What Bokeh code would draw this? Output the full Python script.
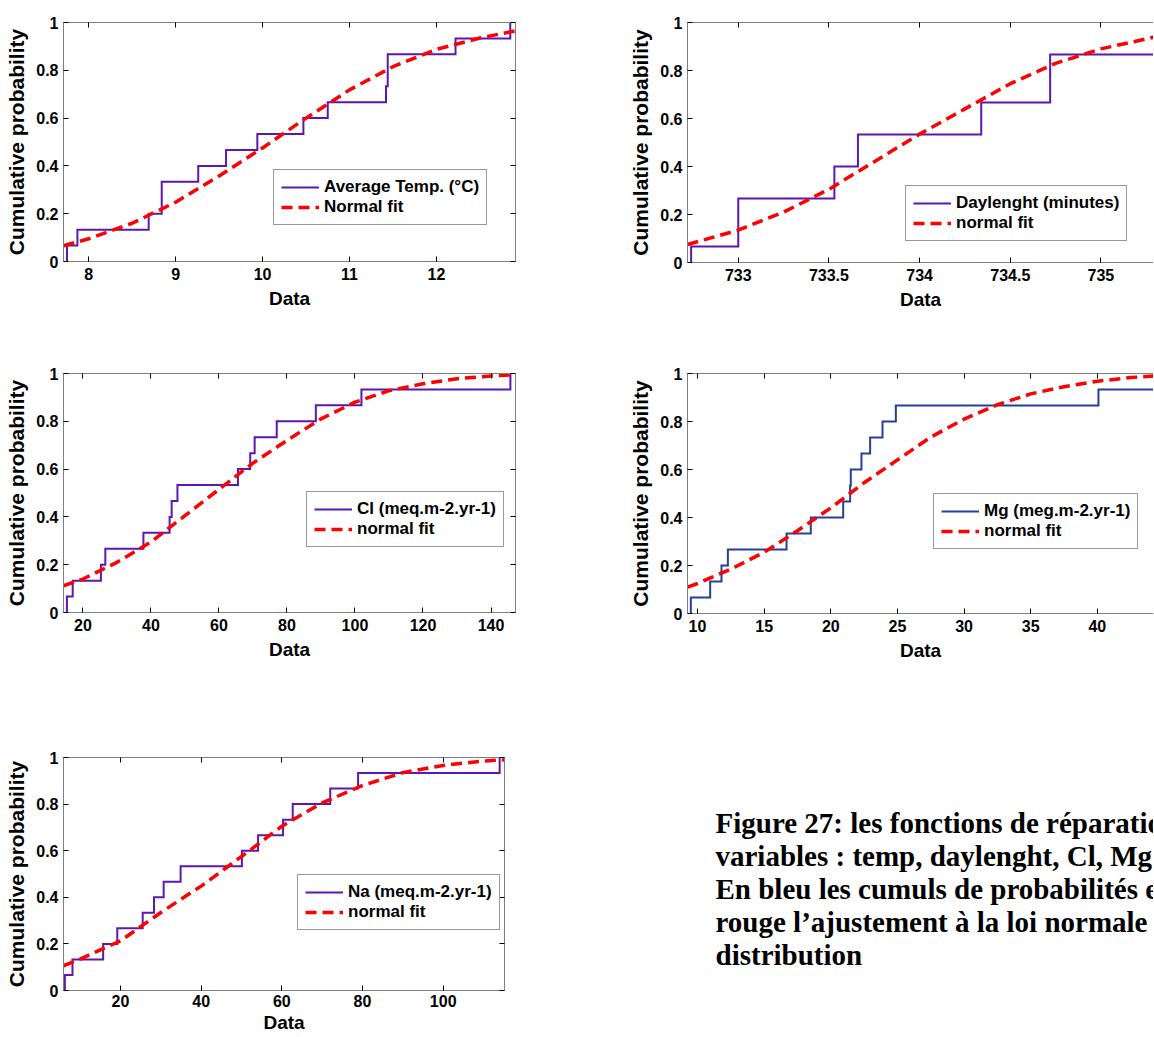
import numpy as np
from bokeh.plotting import figure
from bokeh.layouts import row, column
from bokeh.models import (FixedTicker, LinearAxis, Range1d, Legend, LegendItem,
                          Label, PrintfTickFormatter, CustomJSTickFormatter, Spacer)
from bokeh.embed import file_html
from bokeh.resources import INLINE

# ---------------- data ----------------
temp_values = [7.75, 7.87, 8.69, 8.84, 8.84, 9.26, 9.58, 9.94, 10.47, 10.75,
               11.42, 11.44, 11.44, 12.22, 12.85]
temp_fit_x = [7.71, 8.0, 8.5, 9.0, 9.5, 10.0, 10.5, 11.0, 11.5, 12.0, 12.5, 12.91]
temp_fit_y = [0.066, 0.095, 0.16, 0.248, 0.358, 0.475, 0.60, 0.718, 0.815, 0.888, 0.935, 0.965]
temp_ticks = [8, 9, 10, 11, 12]

day_values = [732.74, 733.0, 733.0, 733.0, 733.53, 733.53, 733.66, 733.66,
              734.34, 734.34, 734.72, 734.72, 734.72, 735.6, 735.8]
day_fit_x = [732.72, 733.0, 733.25, 733.5, 733.75, 734.0, 734.25, 734.5, 734.75, 735.0, 735.3]
day_fit_y = [0.075, 0.135, 0.21, 0.305, 0.42, 0.535, 0.64, 0.745, 0.83, 0.89, 0.94]
day_ticks = [733, 733.5, 734, 734.5, 735]

cl_values = [15.3, 17.0, 25.3, 26.6, 37.8, 45.5, 46.1, 47.8, 65.6, 69.2,
             70.5, 77.0, 88.5, 101.9, 145.7]
cl_fit_x = [14.3, 20, 30, 40, 50, 60, 70, 80, 90, 100, 110, 120, 130, 140, 147.2]
cl_fit_y = [0.112, 0.14, 0.21, 0.295, 0.405, 0.515, 0.625, 0.72, 0.81, 0.88,
            0.928, 0.957, 0.978, 0.99, 0.995]
cl_ticks = [20, 40, 60, 80, 100, 120, 140]

mg_values = [9.5, 10.95, 11.8, 12.28, 16.68, 18.5, 20.93, 21.45, 21.5, 22.3,
             22.95, 23.88, 24.88, 40.08, 45.0]
mg_fit_x = [9.25, 10, 12.5, 15, 17.5, 20, 22.5, 25, 27.5, 30, 32.5, 35, 37.5, 40, 42.5, 44.3]
mg_fit_y = [0.11, 0.125, 0.185, 0.255, 0.345, 0.44, 0.545, 0.64, 0.735, 0.81,
            0.87, 0.915, 0.945, 0.968, 0.983, 0.99]
mg_ticks = [10, 15, 20, 25, 30, 35, 40]

na_values = [6.2, 8.1, 15.7, 19.2, 25.5, 28.3, 30.7, 34.9, 50.1, 54.1,
             60.3, 62.7, 72.0, 78.9, 114.0]
na_fit_x = [5.87, 10, 20, 30, 40, 50, 60, 70, 80, 90, 100, 110, 115.2]
na_fit_y = [0.106, 0.135, 0.213, 0.335, 0.448, 0.575, 0.705, 0.805, 0.88, 0.935,
            0.966, 0.985, 0.99]
na_ticks = [20, 40, 60, 80, 100]

prob_ticks = [0, 0.2, 0.4, 0.6, 0.8, 1]

caption_lines = [
    "Figure 27: les fonctions de réparation",
    "variables : temp, daylenght, Cl, Mg",
    "En bleu les cumuls de probabilités et",
    "rouge l\u2019ajustement à la loi normale",
    "distribution",
]

# ---------------- styling ----------------
FONT = "Liberation Sans"
PURPLE = "#5b17b0"
BLUE = "#24409c"
RED = "#ff0000"
FRAME = "#7f7f7f"


def ecdf_xy(vals):
    v = np.sort(np.asarray(vals, dtype=float))
    n = len(v)
    xs = np.repeat(v, 2)
    ys = np.empty(2 * n)
    ys[0::2] = np.arange(n) / n
    ys[1::2] = np.arange(1, n + 1) / n
    return xs, ys


def style_axis(ax, ticks, labelled, label=None, label_size="19px",
               tick_standoff=6, label_standoff=5):
    ax.ticker = FixedTicker(ticks=ticks)
    ax.axis_line_color = FRAME
    ax.axis_line_width = 1
    ax.major_tick_line_color = "black"
    ax.major_tick_in = 5
    ax.major_tick_out = 0
    ax.minor_tick_line_color = None
    if labelled:
        ax.formatter = PrintfTickFormatter(format="%g")
        ax.major_label_text_font = FONT
        ax.major_label_text_font_style = "bold"
        ax.major_label_text_font_size = "16px"
        ax.major_label_text_color = "black"
        ax.major_label_standoff = tick_standoff
        ax.axis_label = label
        ax.axis_label_text_font = FONT
        ax.axis_label_text_font_style = "bold"
        ax.axis_label_text_font_size = label_size
        ax.axis_label_text_color = "black"
        ax.axis_label_standoff = label_standoff
    else:
        ax.formatter = CustomJSTickFormatter(code="return ''")
        ax.major_label_text_font_size = "1px"
        ax.major_label_standoff = 0


def make_panel(values, fit_x, fit_y, xr, xticks, labels, color, width, height,
               b_left, b_top, b_bottom, b_right, legend_loc, right_axis=True,
               tick_standoff=6, xlabel_standoff=5):
    p = figure(width=width, height=height, x_range=Range1d(*xr), y_range=Range1d(0, 1),
               output_backend="svg", toolbar_location=None,
               min_border_left=b_left, min_border_top=b_top,
               min_border_bottom=b_bottom, min_border_right=b_right)
    p.outline_line_color = None
    p.xgrid.visible = False
    p.ygrid.visible = False
    p.background_fill_color = "white"
    p.border_fill_color = "white"

    style_axis(p.xaxis[0], xticks, True, "Data", "19px",
               tick_standoff=tick_standoff, label_standoff=xlabel_standoff)
    style_axis(p.yaxis[0], prob_ticks, True, "Cumulative probability", "21px",
               tick_standoff=5, label_standoff=5)

    top = LinearAxis()
    style_axis(top, xticks, False)
    p.add_layout(top, "above")
    if right_axis:
        rax = LinearAxis()
        style_axis(rax, prob_ticks, False)
        p.add_layout(rax, "right")

    ex, ey = ecdf_xy(values)
    r1 = p.line(ex, ey, line_color=color, line_width=2, line_join="miter")
    r2 = p.line(fit_x, fit_y, line_color=RED, line_width=3.5, line_dash="11 6")

    leg = Legend(items=[LegendItem(label=labels[0], renderers=[r1]),
                        LegendItem(label=labels[1], renderers=[r2])],
                 location=legend_loc)
    leg.label_text_font = FONT
    leg.label_text_font_style = "bold"
    leg.label_text_font_size = "17px"
    leg.label_text_color = "black"
    leg.glyph_width = 38
    leg.glyph_height = 16
    leg.label_height = 16
    leg.label_standoff = 5
    leg.padding = 7
    leg.spacing = 0
    leg.margin = 0
    leg.border_line_color = "#333333"
    leg.border_line_width = 1
    leg.background_fill_color = "white"
    leg.background_fill_alpha = 1
    p.add_layout(leg)
    return p


# Row 1 (y 0..313)
p1 = make_panel(temp_values, temp_fit_x, temp_fit_y, (7.71, 12.91), temp_ticks,
                ("Average Temp. (°C)", "Normal fit"), PURPLE,
                width=525, height=312, b_left=63, b_top=22, b_bottom=51, b_right=10,
                legend_loc=(210, 36))
p2 = make_panel(day_values, day_fit_x, day_fit_y, (732.72, 735.29), day_ticks,
                ("Daylenght (minutes)", "normal fit"), PURPLE,
                width=528, height=313, b_left=62, b_top=22, b_bottom=51, b_right=0,
                legend_loc=(218, 21), right_axis=False)
# Row 2 (y 313..664)
p3 = make_panel(cl_values, cl_fit_x, cl_fit_y, (14.3, 147.2), cl_ticks,
                ("Cl (meq.m-2.yr-1)", "normal fit"), PURPLE,
                width=525, height=350, b_left=63, b_top=60, b_bottom=51, b_right=10,
                legend_loc=(243, 65))
p4 = make_panel(mg_values, mg_fit_x, mg_fit_y, (9.25, 44.21), mg_ticks,
                ("Mg (meg.m-2.yr-1)", "normal fit"), BLUE,
                width=528, height=351, b_left=62, b_top=60, b_bottom=51, b_right=0,
                legend_loc=(246, 64), right_axis=False)
# Row 3 (y 664..1036)
ROW3_H = 372
p5 = make_panel(na_values, na_fit_x, na_fit_y, (5.87, 115.2), na_ticks,
                ("Na (meq.m-2.yr-1)", "normal fit"), PURPLE,
                width=514, height=ROW3_H, b_left=63, b_top=93, b_bottom=46, b_right=10,
                legend_loc=(234, 60), tick_standoff=4, xlabel_standoff=2)

CAP_W = 639
CAP_FRAME_H = ROW3_H - 93 - 46
cap = figure(width=CAP_W, height=ROW3_H, x_range=Range1d(0, CAP_W),
             y_range=Range1d(CAP_FRAME_H, 0),
             output_backend="svg", toolbar_location=None,
             min_border_left=0, min_border_right=0, min_border_top=93, min_border_bottom=46,
             x_axis_location=None, y_axis_location=None)
cap.outline_line_color = None
cap.grid.visible = False
for i, line in enumerate(caption_lines):
    cap.add_layout(Label(x=201, y=65 + 33 * i, text=line, text_font="Liberation Serif",
                         text_font_style="bold", text_font_size="29px",
                         text_color="black", text_baseline="alphabetic"))

layout = column(
    row(p1, Spacer(width=100, height=10), p2),
    row(p3, Spacer(width=100, height=10), p4),
    row(p5, cap),
)

open("out.html", "w").write(file_html(layout, INLINE))
